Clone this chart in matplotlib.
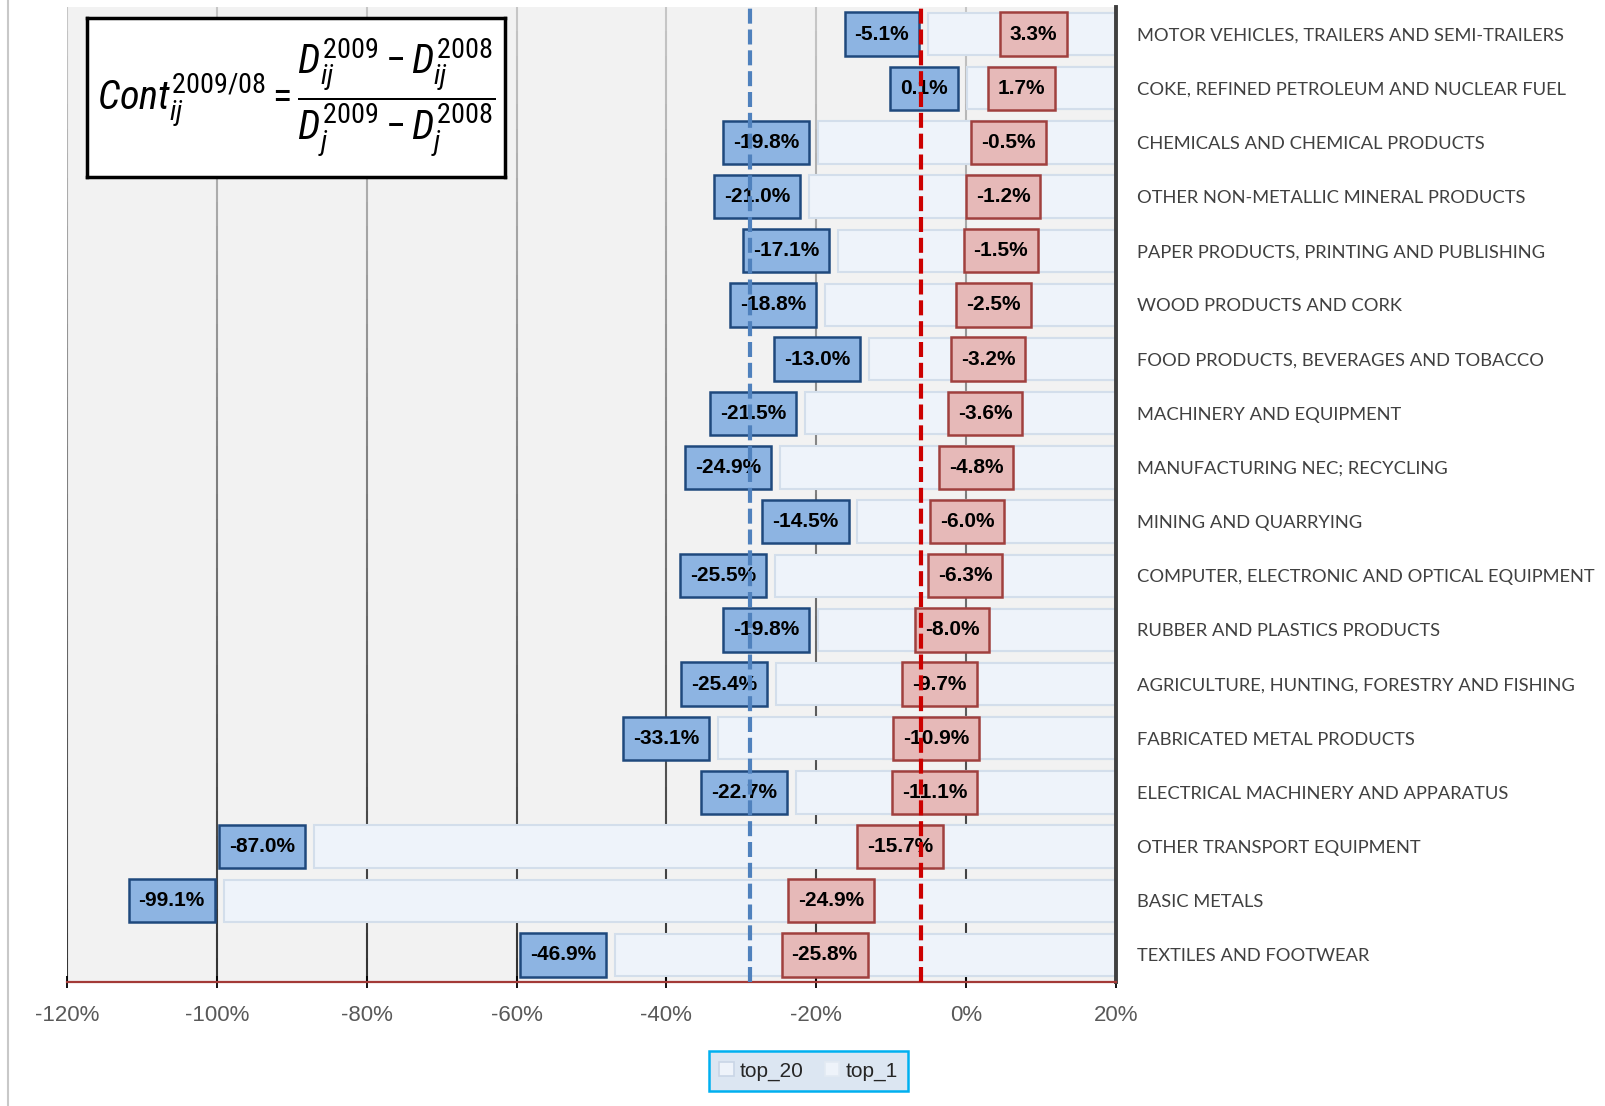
import numpy as np
import matplotlib
matplotlib.use("Agg")
import matplotlib.pyplot as plt
from matplotlib import font_manager
from matplotlib.collections import LineCollection
from matplotlib.lines import Line2D
from matplotlib.patches import Patch

# ----- data (top to bottom) -----
sectors = [
    "MOTOR VEHICLES, TRAILERS AND SEMI-TRAILERS",
    "COKE, REFINED PETROLEUM AND NUCLEAR FUEL",
    "CHEMICALS AND CHEMICAL PRODUCTS",
    "OTHER NON-METALLIC MINERAL PRODUCTS",
    "PAPER PRODUCTS, PRINTING AND PUBLISHING",
    "WOOD PRODUCTS AND CORK",
    "FOOD PRODUCTS, BEVERAGES AND TOBACCO",
    "MACHINERY AND EQUIPMENT",
    "MANUFACTURING NEC; RECYCLING",
    "MINING AND QUARRYING",
    "COMPUTER, ELECTRONIC AND OPTICAL EQUIPMENT",
    "RUBBER AND PLASTICS PRODUCTS",
    "AGRICULTURE, HUNTING, FORESTRY AND FISHING",
    "FABRICATED METAL PRODUCTS",
    "ELECTRICAL MACHINERY AND APPARATUS",
    "OTHER TRANSPORT EQUIPMENT",
    "BASIC METALS",
    "TEXTILES AND FOOTWEAR",
]
top_20 = [-5.1, 0.1, -19.8, -21.0, -17.1, -18.8, -13.0, -21.5, -24.9,
          -14.5, -25.5, -19.8, -25.4, -33.1, -22.7, -87.0, -99.1, -46.9]
top_1 = [3.3, 1.7, -0.5, -1.2, -1.5, -2.5, -3.2, -3.6, -4.8,
         -6.0, -6.3, -8.0, -9.7, -10.9, -11.1, -15.7, -24.9, -25.8]
top_20_ref = -28.9   # blue dashed reference line
top_1_ref = -6.0     # red dashed reference line
x_ticks = [-120, -100, -80, -60, -40, -20, 0, 20]


def have_font(name):
    try:
        font_manager.findfont(name, fallback_to_default=False)
        return True
    except Exception:
        return False


# a narrow face for the formula if one is around
formula_font, formula_size = "Liberation Sans", 25
for cand in ["Liberation Sans Narrow", "Roboto Condensed", "Open Sans Condensed"]:
    if have_font(cand):
        formula_font, formula_size = cand, 29
        break
plt.rcParams["mathtext.fontset"] = "custom"
plt.rcParams["mathtext.rm"] = formula_font
plt.rcParams["mathtext.it"] = formula_font + ":italic"

fig = plt.figure(figsize=(16.05, 11.06), dpi=100)
ax = fig.add_axes([0.0417, 0.1121, 0.6536, 0.8816])
ax.set_facecolor("#F2F2F2")

xmin, xmax = x_ticks[0], x_ticks[-1]
y = np.arange(len(sectors))

# gridlines: light at the top, darker towards the bottom
n_seg = 40
ys = np.linspace(-0.5, len(sectors) - 0.5, n_seg + 1)
segs, cols = [], []
for xv in x_ticks[:-1]:
    for k in range(n_seg):
        segs.append([(xv, ys[k]), (xv, ys[k + 1])])
        g = (200 - 150 * (k + 0.5) / n_seg) / 255
        cols.append((g, g, g))
ax.add_collection(LineCollection(segs, colors=cols, linewidths=1.5, zorder=1))

# top_1 first so the longer top_20 bar sits over it
bar_face = "#EEF3FA"
bar_edge = "#D3DEEB"
ax.barh(y, [xmax - v for v in top_1], left=top_1, height=0.78,
        color=bar_face, edgecolor=bar_edge, linewidth=1.5, zorder=2)
ax.barh(y, [xmax - v for v in top_20], left=top_20, height=0.78,
        color=bar_face, edgecolor=bar_edge, linewidth=1.5, zorder=2)

# value boxes: top_20 outside the bar end, top_1 just inside it
lab_kw = dict(textcoords="offset points", va="center", fontsize=15,
              fontweight="bold", family="Liberation Sans", color="black", zorder=4)
for yi, v in zip(y, top_20):
    ax.annotate(f"{v:.1f}%", xy=(v, yi), xytext=(-13.5, 0), ha="right",
                bbox=dict(boxstyle="square,pad=0.48", fc="#8DB4E2", ec="#1F497D",
                          lw=1.8, mutation_aspect=1.22),
                **lab_kw)
for yi, v in zip(y, top_1):
    ax.annotate(f"{v:.1f}%", xy=(v, yi), xytext=(13.5, 0), ha="left",
                bbox=dict(boxstyle="square,pad=0.48", fc="#E6B9B8", ec="#A0403E",
                          lw=1.8, mutation_aspect=1.22),
                **lab_kw)

ax.axvline(top_20_ref, color="#4F81BD", lw=3, linestyle=(0, (3.6, 1.4)), zorder=6)
ax.axvline(top_1_ref, color="#CC0000", lw=3, linestyle=(0, (3.6, 1.4)), zorder=6)

ax.set_xlim(xmin, xmax)
ax.set_ylim(len(sectors) - 0.5, -0.5)

ax.set_xticks(x_ticks)
ax.set_xticklabels([f"{t}%" for t in x_ticks], fontsize=16,
                   family="Liberation Sans", color="#595959")
ax.tick_params(axis="x", direction="inout", length=9, width=1.3, color="black", pad=12)

ax.yaxis.tick_right()
ax.set_yticks(y)
ax.set_yticklabels(sectors, fontsize=13.2, family="Lato", color="#404040")
ax.tick_params(axis="y", length=0, pad=15)

for s in ["top", "left"]:
    ax.spines[s].set_visible(False)
ax.spines["right"].set_color("#404040")
ax.spines["right"].set_linewidth(2.8)
ax.spines["bottom"].set_color("#A33A37")
ax.spines["bottom"].set_linewidth(1.6)

# formula box
fax = fig.add_axes([87 / 1605, 1 - 177 / 1106, 418 / 1605, 159 / 1106])
fax.set_xticks([])
fax.set_yticks([])
fax.set_facecolor("white")
for s in fax.spines.values():
    s.set_linewidth(2.5)
    s.set_color("black")
fax.text(0.5, 0.5,
         r"$Cont_{ij}^{2009/08} = \dfrac{D_{ij}^{2009} - D_{ij}^{2008}}{D_{j}^{2009} - D_{j}^{2008}}$",
         ha="center", va="center", fontsize=formula_size, transform=fax.transAxes)

handles = [Patch(facecolor=bar_face, edgecolor="#C9D6E6", lw=1.2),
           Patch(facecolor=bar_face, edgecolor="#E3EAF3", lw=1.2)]
leg = fig.legend(handles, ["top_20", "top_1"], loc="center",
                 bbox_to_anchor=(0.5037, 0.0316), ncol=2, frameon=True,
                 fancybox=False, edgecolor="#00B0F0", facecolor="#DCE6F2",
                 framealpha=1, handlelength=0.7, handleheight=0.7,
                 handletextpad=0.3, columnspacing=1.0, borderpad=0.5,
                 prop={"family": "Liberation Sans", "size": 15})
leg.get_frame().set_linewidth(1.8)
for t in leg.get_texts():
    t.set_color("#262626")

fig.add_artist(Line2D([8 / 1605, 8 / 1605], [0, 1], transform=fig.transFigure,
                      color="#C8C8C8", lw=1.5))

fig.savefig("out.png", dpi=100)
